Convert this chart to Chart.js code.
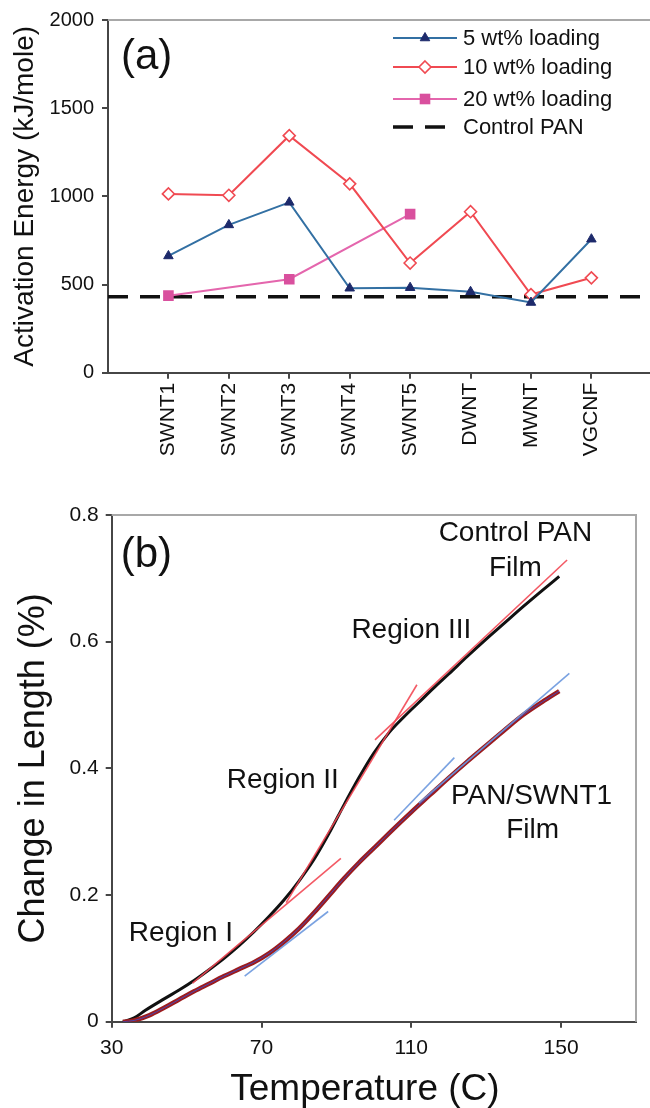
<!DOCTYPE html>
<html>
<head>
<meta charset="utf-8">
<script src="https://cdn.jsdelivr.net/npm/chart.js@4.4.1/dist/chart.umd.min.js"></script>
<style>
  html, body { margin: 0; padding: 0; background: #fff; }
  #wrapA { position: absolute; left: 0; top: 0; width: 650px; height: 470px; }
  #wrapB { position: absolute; left: 0; top: 490px; width: 650px; height: 618px; }
</style>
</head>
<body>
<div id="wrapA"><canvas id="chartA"></canvas></div>
<div id="wrapB"><canvas id="chartB"></canvas></div>
<script>
  var FONT = '"Liberation Sans", Arial, Helvetica, sans-serif';

  /* panel (a): activation energy per filler, kJ/mole */
  var samples = ['SWNT1', 'SWNT2', 'SWNT3', 'SWNT4', 'SWNT5', 'DWNT', 'MWNT', 'VGCNF'];
  var load5 = [662, 838, 966, 479, 482, 459, 398, 757];
  var load10 = [1014, 1006, 1344, 1071, 622, 913, 443, 538];
  var load20 = [437, null, 530, null, 899, null, null, null];
  var controlPan = 431;
  var energyTicks = [0, 500, 1000, 1500, 2000];

  /* panel (b): change in length vs temperature */
  var tempTicks = [30, 70, 110, 150];
  var strainTicks = [0, 0.2, 0.4, 0.6, 0.8];
  var controlT = [33, 36, 39, 44, 48, 52, 56, 60, 64, 68, 72, 76, 80, 84, 88, 92, 96, 100, 104, 108, 112, 116, 120, 125, 130, 135, 140, 145, 149.5];
  var controlL = [0, 0.006, 0.018, 0.036, 0.05, 0.065, 0.082, 0.100, 0.120, 0.142, 0.166, 0.192, 0.222, 0.256, 0.297, 0.342, 0.385, 0.424, 0.456, 0.481, 0.504, 0.527, 0.549, 0.577, 0.604, 0.630, 0.656, 0.681, 0.703];
  var swntT = [33, 36, 40, 44, 48, 52, 56, 60, 64, 68, 72, 76, 80, 84, 88, 92, 96, 100, 105, 110, 115, 120, 125, 130, 135, 140, 145, 149.5];
  var swntL = [0, 0.002, 0.01, 0.022, 0.035, 0.048, 0.060, 0.072, 0.083, 0.094, 0.108, 0.126, 0.147, 0.172, 0.199, 0.226, 0.251, 0.274, 0.303, 0.331, 0.358, 0.385, 0.411, 0.436, 0.461, 0.485, 0.505, 0.522];
  /* linear fits: [t0, L0, t1, L1] */
  var fitControl1 = [51.6, 0.061, 91.2, 0.258];
  var fitControl2 = [76.6, 0.188, 111.5, 0.532];
  var fitControl3 = [100.3, 0.445, 151.6, 0.729];
  var fitSwnt1 = [65.5, 0.072, 87.8, 0.174];
  var fitSwnt2 = [105.4, 0.318, 121.5, 0.417];
  var fitSwnt3 = [112, 0.345, 152.2, 0.55];

  var axisColor = '#464646';
  var frameColor = '#a8a8a8';
  var textColor = '#111';
  var xMaxA = 8.97;

  function fixWidth(w) { return function(s) { s.width = w; s.paddingTop = 0; s.paddingBottom = 0; }; }
  function fixHeight(h) { return function(s) { s.height = h; s.paddingLeft = 0; s.paddingRight = 0; }; }
  function useTicks(list) { return function(s) { s.ticks = list.map(function(v) { return { value: v }; }); }; }
  function catPoints(ys) { return ys.map(function(v, i) { return { x: i + 1, y: v }; }); }
  function curve(ts, ls) { return ts.map(function(t, i) { return { x: t, y: ls[i] }; }); }
  function seg(f) { return [{ x: f[0], y: f[1] }, { x: f[2], y: f[3] }]; }

  function drawMarker(c, style, x, y, r, fill, stroke, bw) {
    c.beginPath();
    if (style === 'triangle') {
      var a = 0;
      c.moveTo(x + Math.sin(a) * r, y - Math.cos(a) * r);
      a += 2 * Math.PI / 3;
      c.lineTo(x + Math.sin(a) * r, y - Math.cos(a) * r);
      a += 2 * Math.PI / 3;
      c.lineTo(x + Math.sin(a) * r, y - Math.cos(a) * r);
      c.closePath();
    } else if (style === 'rectRot') {
      c.moveTo(x, y - r); c.lineTo(x + r, y); c.lineTo(x, y + r); c.lineTo(x - r, y); c.closePath();
    } else {
      var s = r * Math.SQRT1_2;
      c.rect(x - s, y - s, 2 * s, 2 * s);
    }
    c.fillStyle = fill;
    c.fill();
    if (bw) { c.lineWidth = bw; c.strokeStyle = stroke; c.stroke(); }
  }

  /* ---------- panel (a) ---------- */
  var legendRowsA = [38, 67, 99, 127];

  var panelA = {
    id: 'panelA',
    beforeDatasetsDraw: function(chart) {
      var c = chart.ctx, a = chart.chartArea;
      c.save();
      c.strokeStyle = frameColor;
      c.lineWidth = 2;
      c.beginPath();
      c.moveTo(a.left, a.top);
      c.lineTo(a.right, a.top);
      c.stroke();
      c.restore();
    },
    afterDatasetsDraw: function(chart) {
      var c = chart.ctx, a = chart.chartArea;
      c.save();
      c.fillStyle = textColor;
      c.font = '42px ' + FONT;
      c.textAlign = 'left';
      c.textBaseline = 'middle';
      c.fillText('(a)', a.left + 13, 57);

      /* legend */
      chart.data.datasets.forEach(function(ds, i) {
        var y = legendRowsA[i];
        c.save();
        c.strokeStyle = ds.borderColor;
        c.lineWidth = ds.borderDash ? 3.5 : 2;
        c.setLineDash(ds.borderDash || []);
        c.beginPath();
        c.moveTo(393, y);
        c.lineTo(457, y);
        c.stroke();
        c.restore();
        if (ds.pointRadius) {
          drawMarker(c, ds.pointStyle, 425, y, ds.pointRadius, ds.pointBackgroundColor, ds.pointBorderColor, ds.pointBorderWidth);
        }
        c.fillStyle = textColor;
        c.font = '22px ' + FONT;
        c.textAlign = 'left';
        c.textBaseline = 'middle';
        c.fillText(ds.label, 463, y + 1);
      });
      c.restore();
    }
  };

  new Chart(document.getElementById('chartA'), {
    type: 'line',
    data: {
      datasets: [
        {
          label: '5 wt% loading',
          data: catPoints(load5),
          borderColor: '#3370a3',
          backgroundColor: '#1d2a6b',
          pointBackgroundColor: '#1d2a6b',
          pointBorderColor: '#1d2a6b',
          pointBorderWidth: 1,
          pointStyle: 'triangle',
          pointRadius: 5.5,
          borderWidth: 2
        },
        {
          label: '10 wt% loading',
          data: catPoints(load10),
          borderColor: '#f04a52',
          backgroundColor: '#ffffff',
          pointBackgroundColor: '#ffffff',
          pointBorderColor: '#f04a52',
          pointBorderWidth: 1.6,
          pointStyle: 'rectRot',
          pointRadius: 6,
          borderWidth: 2
        },
        {
          label: '20 wt% loading',
          data: catPoints(load20),
          spanGaps: true,
          borderColor: '#e466ad',
          backgroundColor: '#d9509e',
          pointBackgroundColor: '#d9509e',
          pointBorderColor: '#d9509e',
          pointBorderWidth: 0,
          pointStyle: 'rect',
          pointRadius: 7.5,
          borderWidth: 2
        },
        {
          label: 'Control PAN',
          data: [{ x: 0, y: controlPan }, { x: xMaxA, y: controlPan }],
          borderColor: '#111111',
          borderDash: [20, 12],
          borderWidth: 3.5,
          pointRadius: 0
        }
      ]
    },
    options: {
      responsive: true,
      maintainAspectRatio: false,
      animation: false,
      layout: { autoPadding: false, padding: { top: 20, right: 0, bottom: 0, left: 0 } },
      plugins: { legend: { display: false }, tooltip: { enabled: false } },
      scales: {
        x: {
          type: 'linear',
          min: 0,
          max: xMaxA,
          afterFit: fixHeight(97.3),
          afterBuildTicks: useTicks(samples.map(function(s, i) { return i + 1; })),
          grid: { drawOnChartArea: false, drawTicks: true, tickLength: 6, color: axisColor, lineWidth: 2 },
          border: { display: true, color: axisColor, width: 2 },
          ticks: {
            autoSkip: false,
            minRotation: 90,
            maxRotation: 90,
            padding: 4,
            color: textColor,
            font: { family: FONT, size: 21 },
            callback: function(v) { return samples[v - 1]; }
          }
        },
        y: {
          min: 0,
          max: 2000,
          afterFit: fixWidth(108),
          afterBuildTicks: useTicks(energyTicks),
          grid: { drawOnChartArea: false, drawTicks: true, tickLength: 6, color: axisColor, lineWidth: 2 },
          border: { display: true, color: axisColor, width: 2 },
          ticks: {
            padding: 8,
            color: textColor,
            font: { family: FONT, size: 20 },
            callback: function(v) { return String(v); }
          },
          title: {
            display: true,
            text: 'Activation Energy (kJ/mole)',
            color: textColor,
            font: { family: FONT, size: 28 },
            padding: { top: 8, bottom: 0 }
          }
        }
      }
    },
    plugins: [panelA]
  });

  /* ---------- panel (b) ---------- */
  var notesB = [
    { text: 'Region I', t: 48.5, l: 0.140 },
    { text: 'Region II', t: 75.7, l: 0.381 },
    { text: 'Region III', t: 110, l: 0.618 },
    { text: 'Control PAN', t: 137.8, l: 0.771 },
    { text: 'Film', t: 137.8, l: 0.716 },
    { text: 'PAN/SWNT1', t: 142.1, l: 0.356 },
    { text: 'Film', t: 142.4, l: 0.303 }
  ];

  var panelB = {
    id: 'panelB',
    beforeDatasetsDraw: function(chart) {
      var c = chart.ctx, a = chart.chartArea;
      c.save();
      c.strokeStyle = frameColor;
      c.lineWidth = 2;
      c.beginPath();
      c.moveTo(a.left, a.top);
      c.lineTo(a.right, a.top);
      c.lineTo(a.right, a.bottom);
      c.stroke();
      c.restore();
    },
    afterDatasetsDraw: function(chart) {
      var c = chart.ctx, a = chart.chartArea;
      var xs = chart.scales.x, ys = chart.scales.y;
      c.save();
      c.fillStyle = textColor;
      c.font = '42px ' + FONT;
      c.textAlign = 'left';
      c.textBaseline = 'middle';
      c.fillText('(b)', a.left + 9, 65);
      c.font = '28px ' + FONT;
      c.textAlign = 'center';
      notesB.forEach(function(n) {
        c.fillText(n.text, xs.getPixelForValue(n.t), ys.getPixelForValue(n.l));
      });
      /* x-axis title, set slightly left of the plot centre as in the figure */
      c.font = '37px ' + FONT;
      c.fillText('Temperature (C)', a.left + (a.right - a.left) * 0.483, chart.height - 18);
      c.restore();
    }
  };

  var redFit = 'rgba(242, 72, 84, 0.9)';
  var blueFit = 'rgba(108, 152, 222, 0.9)';

  function fitSet(f, color) {
    return { data: seg(f), borderColor: color, borderWidth: 1.6, pointRadius: 0 };
  }

  new Chart(document.getElementById('chartB'), {
    type: 'line',
    data: {
      datasets: [
        fitSet(fitControl1, redFit),
        fitSet(fitControl2, redFit),
        fitSet(fitControl3, redFit),
        fitSet(fitSwnt1, blueFit),
        fitSet(fitSwnt2, blueFit),
        fitSet(fitSwnt3, blueFit),
        { data: curve(swntT, swntL), borderColor: '#4a46b4', borderWidth: 1, pointRadius: 0, cubicInterpolationMode: 'monotone' },
        { data: curve(swntT, swntL), borderColor: '#9c1c1e', borderWidth: 4.5, pointRadius: 0, cubicInterpolationMode: 'monotone' },
        { data: curve(controlT, controlL), borderColor: '#111111', borderWidth: 3, pointRadius: 0, cubicInterpolationMode: 'monotone' }
      ]
    },
    options: {
      responsive: true,
      maintainAspectRatio: false,
      animation: false,
      layout: { autoPadding: false, padding: { top: 25, right: 14, bottom: 0, left: 0 } },
      plugins: { legend: { display: false }, tooltip: { enabled: false } },
      scales: {
        x: {
          type: 'linear',
          min: 30,
          max: 170,
          afterFit: fixHeight(86.3),
          afterBuildTicks: useTicks(tempTicks),
          grid: { drawOnChartArea: false, drawTicks: true, tickLength: 6, color: axisColor, lineWidth: 2 },
          border: { display: true, color: axisColor, width: 2 },
          ticks: {
            padding: 8,
            color: textColor,
            font: { family: FONT, size: 21 },
            callback: function(v) { return String(v); }
          }
        },
        y: {
          min: 0,
          max: 0.8,
          afterFit: fixWidth(111.7),
          afterBuildTicks: useTicks(strainTicks),
          grid: { drawOnChartArea: false, drawTicks: true, tickLength: 6, color: axisColor, lineWidth: 2 },
          border: { display: true, color: axisColor, width: 2 },
          ticks: {
            padding: 7,
            color: textColor,
            font: { family: FONT, size: 21 },
            callback: function(v) { return v === 0 ? '0' : v.toFixed(1); }
          },
          title: {
            display: true,
            text: 'Change in Length (%)',
            color: textColor,
            font: { family: FONT, size: 36 },
            padding: { top: 12, bottom: 0 }
          }
        }
      }
    },
    plugins: [panelB]
  });
</script>
</body>
</html>
